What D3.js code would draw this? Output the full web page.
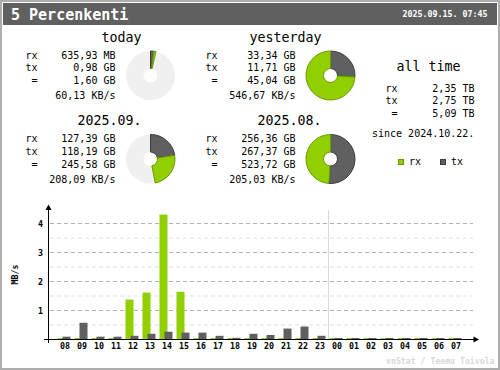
<!DOCTYPE html>
<html>
<head>
<meta charset="utf-8">
<script src="https://cdn.jsdelivr.net/npm/d3@7"></script>
<style>
  body { margin: 0; background: #fff; }
  text { font-family: "DejaVu Sans Mono", monospace; }
</style>
</head>
<body>
<div id="chart"></div>
<script>
var W = 500, H = 370

// summary boxes
var periods  = ['today', 'yesterday', '2025.09.', '2025.08.']
var rxText   = ['635,93 MB', '33,34 GB', '127,39 GB', '256,36 GB']
var txText   = ['0,98 GB', '11,71 GB', '118,19 GB', '267,37 GB']
var sumText  = ['1,60 GB', '45,04 GB', '245,58 GB', '523,72 GB']
var rateText = ['60,13 KB/s', '546,67 KB/s', '208,09 KB/s', '205,03 KB/s']
// GB, used for the pies
var rxVal = [0.636, 33.34, 127.39, 256.36]
var txVal = [0.98, 11.71, 118.19, 267.37]

var allLabels = ['rx', 'tx', '=']
var allText = ['2,35 TB', '2,75 TB', '5,09 TB']

// hourly MB/s
var hours = ['08','09','10','11','12','13','14','15','16','17','18','19',
             '20','21','22','23','00','01','02','03','04','05','06','07']
var rxHour = [0.03, 0.03, 0.03, 0.03, 1.36, 1.60, 4.29, 1.63, 0.03, 0.03, 0.03, 0.03,
              0.03, 0.03, 0.03, 0.03, 0.03, 0.03, 0.03, 0.03, 0.03, 0.03, 0.03, 0.03]
var txHour = [0.08, 0.56, 0.08, 0.08, 0.11, 0.18, 0.25, 0.22, 0.22, 0.11, 0.04, 0.18,
              0.14, 0.36, 0.43, 0.11, 0.03, 0.03, 0.03, 0.03, 0.03, 0.03, 0.03, 0.03]
var yTicks = [1, 2, 3, 4]

var crx = '#92cf00', crxd = '#6b9a00'
var ctx = '#606060', ctxd = '#3c3c3c'

var svg = d3.select('#chart').append('svg')
  .attr('width', W).attr('height', H)

// frame + header
svg.append('rect').attr('x', 1).attr('y', 1).attr('width', W - 2).attr('height', H - 2)
  .attr('fill', '#fff').attr('stroke', '#aeaeae').attr('stroke-width', 2)
svg.append('rect').attr('x', 3).attr('y', 3).attr('width', 494).attr('height', 22)
  .attr('fill', '#606060')
svg.append('text').attr('x', 11).attr('y', 19.5)
  .attr('font-size', 15).attr('font-weight', 'bold').attr('fill', '#fff')
  .text('5 Percenkenti')
svg.append('text').attr('x', 487.5).attr('y', 17).attr('text-anchor', 'end')
  .attr('font-size', 8.3).attr('font-weight', 'bold').attr('fill', '#fff')
  .text('2025.09.15. 07:45')

// boxes: column offset, row offset
var boxX = [0, 180, 0, 180]
var boxY = [0, 0, 83.5, 83.5]
var arc = d3.arc().innerRadius(7).outerRadius(24.5)

periods.forEach(function(p, i) {
  var g = svg.append('g').attr('transform', 'translate(' + boxX[i] + ',' + boxY[i] + ')')
  g.append('text').attr('x', 141.5).attr('y', 41.5).attr('text-anchor', 'end')
    .attr('font-size', 13.3).text(p)
  var rows = [rxText[i], txText[i], sumText[i]]
  var base = [58.7, 71.3, 84]
  rows.forEach(function(t, j) {
    g.append('text').attr('x', 37.5).attr('y', base[j]).attr('text-anchor', 'end')
      .attr('font-size', 10).text(allLabels[j])
    g.append('text').attr('x', 115.5).attr('y', base[j]).attr('text-anchor', 'end')
      .attr('font-size', 10).text(t)
  })
  g.append('text').attr('x', 115.5).attr('y', 99).attr('text-anchor', 'end')
    .attr('font-size', 10).text(rateText[i])

  // pie is relative to the bigger of the pair
  var k = i % 2 == 0 ? i : i - 1
  var ref = Math.max(rxVal[k] + txVal[k], rxVal[k + 1] + txVal[k + 1])
  var a1 = 2 * Math.PI * txVal[i] / ref
  var a2 = 2 * Math.PI * (txVal[i] + rxVal[i]) / ref
  var pg = g.append('g').attr('transform', 'translate(150.5,75.5)')
  pg.append('path').attr('d', arc({startAngle: 0, endAngle: 2 * Math.PI}))
    .attr('fill', '#f0f0f0')
  pg.append('path').attr('d', arc({startAngle: 0, endAngle: a1}))
    .attr('fill', ctx).attr('stroke', ctxd).attr('stroke-width', 1)
  pg.append('path').attr('d', arc({startAngle: a1, endAngle: Math.min(a2, 2 * Math.PI)}))
    .attr('fill', crx).attr('stroke', crxd).attr('stroke-width', 1)
})

// all time
svg.append('text').attr('x', 428.5).attr('y', 70.7).attr('text-anchor', 'middle')
  .attr('font-size', 13.3).text('all time')
var allBase = [91.7, 104.3, 116.7]
allText.forEach(function(t, j) {
  svg.append('text').attr('x', 397.5).attr('y', allBase[j]).attr('text-anchor', 'end')
    .attr('font-size', 10).text(allLabels[j])
  svg.append('text').attr('x', 474.5).attr('y', allBase[j]).attr('text-anchor', 'end')
    .attr('font-size', 10).text(t)
})
svg.append('text').attr('x', 372).attr('y', 137.3)
  .attr('font-size', 10).text('since 2024.10.22.')

var legend = [['rx', crx, crxd, 398.5], ['tx', ctx, ctxd, 440.5]]
legend.forEach(function(l) {
  svg.append('rect').attr('x', l[3]).attr('y', 159.5).attr('width', 5).attr('height', 5)
    .attr('fill', l[1]).attr('stroke', l[2])
  svg.append('text').attr('x', l[3] + 10.5).attr('y', 165).attr('font-size', 10).text(l[0])
})

// hourly chart
var x = d3.scaleBand().domain(hours).range([56.5, 464.5])
var y = d3.scaleLinear().domain([0, 4]).range([339, 223])
var gridV = d3.range(1, 9).map(function(d) { return d / 2 })

svg.append('g').selectAll('line').data(gridV).enter().append('line')
  .attr('x1', 50).attr('x2', 473)
  .attr('y1', function(d) { return y(d) + 0.5 })
  .attr('y2', function(d) { return y(d) + 0.5 })
  .attr('stroke', function(d) { return d % 1 == 0 ? '#b0b0b0' : '#e0e0e0' })
  .attr('stroke-dasharray', '4,3')

// day boundary
svg.append('line').attr('x1', x('00')).attr('x2', x('00'))
  .attr('y1', 210).attr('y2', 339).attr('stroke', '#d8d8d8')

function barH(v) { return Math.max(1, y(0) - y(v)) }

svg.append('g').selectAll('rect').data(hours).enter().append('rect')
  .attr('x', function(h) { return x(h) + x.bandwidth() / 2 - 7.5 })
  .attr('width', 8)
  .attr('y', function(h, i) { return y(0) - barH(rxHour[i]) })
  .attr('height', function(h, i) { return barH(rxHour[i]) })
  .attr('fill', crx)
svg.append('g').selectAll('rect').data(hours).enter().append('rect')
  .attr('x', function(h) { return x(h) + x.bandwidth() / 2 - 2.5 })
  .attr('width', 8)
  .attr('y', function(h, i) { return y(0) - barH(txHour[i]) })
  .attr('height', function(h, i) { return barH(txHour[i]) })
  .attr('fill', ctx)

// axes
var xa = svg.append('g').attr('transform', 'translate(0,339)')
  .call(d3.axisBottom(x).tickSize(0))
xa.select('.domain').remove()
xa.selectAll('text').attr('y', 10.3).attr('dy', 0)
  .attr('font-family', '"DejaVu Sans Mono", monospace')
  .attr('font-size', 8.3).attr('font-weight', 'bold').attr('fill', '#000')

var ya = svg.append('g').attr('transform', 'translate(43,0)')
  .call(d3.axisLeft(y).tickValues(yTicks).tickFormat(d3.format('d')).tickSize(0).tickPadding(0))
ya.select('.domain').remove()
ya.selectAll('text').attr('x', 0).attr('dy', 3.3)
  .attr('font-family', '"DejaVu Sans Mono", monospace')
  .attr('font-size', 8.3).attr('font-weight', 'bold').attr('fill', '#000')

svg.append('line').attr('x1', 48.5).attr('x2', 48.5).attr('y1', 208).attr('y2', 343)
  .attr('stroke', '#000')
svg.append('line').attr('x1', 44).attr('x2', 476).attr('y1', 339.5).attr('y2', 339.5)
  .attr('stroke', '#000')
svg.append('path').attr('d', 'M48.5,204.5 L45.5,210 L51.5,210 Z').attr('fill', '#000')
svg.append('path').attr('d', 'M479,339.5 L473.5,336.5 L473.5,342.5 Z').attr('fill', '#000')

svg.append('text').attr('transform', 'translate(17.5,274.5) rotate(-90)')
  .attr('text-anchor', 'middle').attr('font-size', 8.3).attr('font-weight', 'bold')
  .text('MB/s')

svg.append('text').attr('x', 494.5).attr('y', 364.3).attr('text-anchor', 'end')
  .attr('font-size', 8.2).attr('font-weight', 'bold').attr('fill', '#d8d8d8')
  .text('vnStat / Teemu Toivola')
</script>
</body>
</html>
